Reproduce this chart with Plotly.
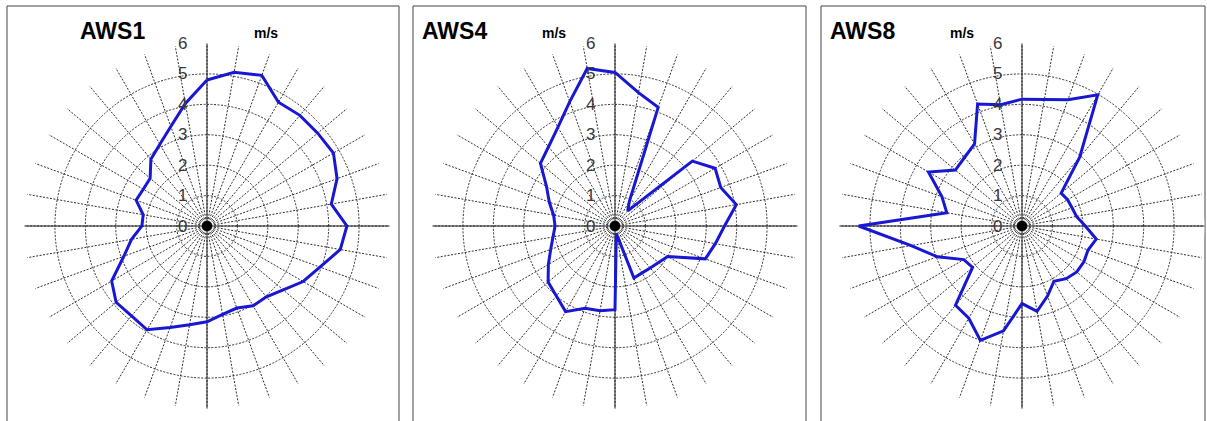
import plotly.graph_objects as go

# ---------------- data ----------------
directions = list(range(0, 360, 10))  # degrees from north, clockwise

aws1 = [4.8, 5.13, 5.27, 4.7, 4.75, 4.75, 4.8, 4.55, 4.15, 4.6, 4.45, 3.95,
        3.65, 3.27, 3.04, 3.03, 2.87, 2.95, 3.15, 3.3, 3.55, 3.94, 3.86, 3.9,
        3.62, 2.91, 2.52, 2.14, 2.13, 2.48, 2.42, 2.44, 2.87, 3.1, 3.48, 4.09]

aws4 = [5.05, 4.45, 4.15, 0.95, 0.65, 3.32, 3.8, 3.7, 4.05, 3.6, 3.35, 3.16,
        2.0, 1.87, 1.8, 1.78, 1.82, 0.25, 2.75, 2.83, 2.88, 3.25, 3.0, 2.87,
        2.53, 2.25, 2.07, 1.97, 2.05, 2.3, 2.6, 3.2, 3.4, 3.75, 4.35, 5.26]

aws8 = [4.17, 4.22, 4.42, 4.98, 2.95, 1.68, 1.73, 1.75, 1.82, 2.08, 2.48, 2.31,
        2.35, 2.35, 2.26, 2.1, 2.45, 2.85, 2.55, 3.5, 4.0, 3.5, 3.4, 2.12,
        2.21, 2.96, 3.7, 5.37, 2.51, 2.8, 3.55, 2.86, 2.94, 3.12, 4.27, 4.05]

station_names = ["AWS1", "AWS4", "AWS8"]
unit_label = "m/s"
radial_ticks = [0, 1, 2, 3, 4, 5, 6]
radial_ticktext = ["0", "1", "2", "3", "4", "5", "6"]
cardinal_dirs = [0, 90]

series = [aws1, aws4, aws8]

# ---------------- layout geometry ----------------
W, H = 1207, 421
centers_px = [207, 615, 1022]
cy_px = 226
rad_px = 182.5
panel_boxes_px = [(7, 399), (413, 806), (821, 1205)]
panel_top_px = 6
title_left_px = [78, 420, 828]
unit_left_px = [252, 540, 948]

LINE_BLUE = "#1818d4"
GRID = "#2e2e2e"

fig = go.Figure()

axis_max = radial_ticks[-1]

for i, vals in enumerate(series):
    pname = "polar" if i == 0 else f"polar{i+1}"
    for d in cardinal_dirs:
        fig.add_trace(go.Scatterpolar(
            r=[axis_max, 0, axis_max], theta=[d, d, d + 180],
            mode="lines", line=dict(color="#222222", width=1),
            hoverinfo="skip", showlegend=False, subplot=pname))
    fig.add_trace(go.Scatterpolar(
        r=vals + vals[:1], theta=directions + directions[:1],
        mode="lines", line=dict(color=LINE_BLUE, width=3),
        showlegend=False, subplot=pname, name=station_names[i]))
    fig.add_trace(go.Scatterpolar(
        r=[0], theta=[0], mode="markers",
        marker=dict(color="black", size=10, line=dict(width=0)),
        hoverinfo="skip", showlegend=False, subplot=pname))

    cx = centers_px[i]
    dom_x = [(cx - rad_px) / W, (cx + rad_px) / W]
    dom_y = [(H - (cy_px + rad_px)) / H, (H - (cy_px - rad_px)) / H]
    polar_cfg = dict(
        domain=dict(x=dom_x, y=dom_y),
        bgcolor="white",
        radialaxis=dict(
            range=[0, axis_max], tickvals=radial_ticks, ticktext=radial_ticktext,
            angle=90, side="counterclockwise", showline=False,
            ticks="outside", ticklen=13, tickcolor="rgba(0,0,0,0)",
            tickfont=dict(family="Liberation Sans, Arial", size=17, color="#3a3a3a"),
            tickangle=90,
            showgrid=True, gridcolor=GRID, gridwidth=1, griddash="2px,1.5px"),
        angularaxis=dict(
            rotation=90, direction="clockwise",
            tickmode="linear", tick0=0, dtick=10,
            showticklabels=False, ticks="",
            showline=False,
            showgrid=True, gridcolor=GRID, gridwidth=1, griddash="2px,1.5px"),
    )
    fig.update_layout(**{pname: polar_cfg})

shapes = []
for (x0, x1) in panel_boxes_px:
    shapes.append(dict(type="rect", xref="paper", yref="paper",
                       x0=x0 / W, x1=x1 / W, y0=-0.05, y1=(H - panel_top_px) / H,
                       line=dict(color="#444444", width=1), fillcolor="rgba(0,0,0,0)",
                       layer="below"))

annotations = []
for i, name in enumerate(station_names):
    annotations.append(dict(text=f"<b>{name}</b>", xref="paper", yref="paper",
                            x=title_left_px[i] / W, y=(H - 31) / H,
                            xanchor="left", yanchor="middle", showarrow=False,
                            font=dict(family="Liberation Sans, Arial", size=23, color="black")))
    annotations.append(dict(text=f"<b>{unit_label}</b>", xref="paper", yref="paper",
                            x=unit_left_px[i] / W, y=(H - 33) / H,
                            xanchor="left", yanchor="middle", showarrow=False,
                            font=dict(family="Liberation Sans, Arial", size=14, color="black")))

fig.update_layout(
    width=W, height=H,
    margin=dict(l=0, r=0, t=0, b=0),
    paper_bgcolor="white", plot_bgcolor="white",
    shapes=shapes, annotations=annotations,
    showlegend=False,
)

fig.write_html("out.html", config={"displayModeBar": False},
               post_script="document.body.style.margin='0';document.body.style.overflow='hidden';")
